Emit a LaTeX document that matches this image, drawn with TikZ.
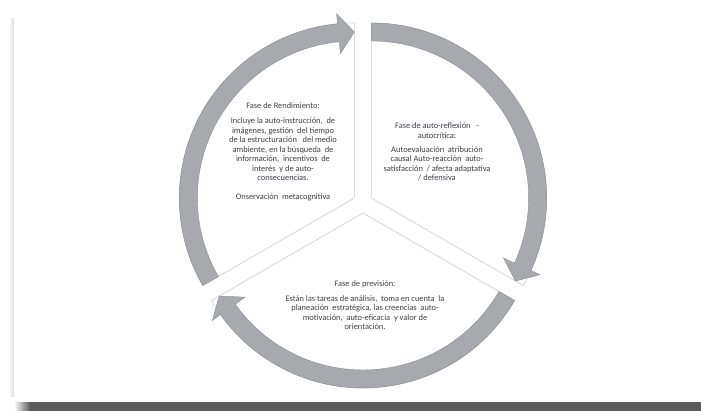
\documentclass[tikz,border=0pt]{standalone}
\usepackage{fontspec}
\setmainfont{Carlito}
\usetikzlibrary{calc}

\definecolor{ringgray}{RGB}{167,169,174}
\definecolor{ringedge}{RGB}{138,140,146}
\definecolor{txtgray}{RGB}{62,62,72}
\definecolor{shadowgray}{RGB}{92,92,92}

\begin{document}
\begin{tikzpicture}[x=1pt, y=1pt,
    segfill/.style={fill=white, draw=gray!40, line width=0.6pt},
    ringband/.style={fill=ringgray, draw=ringedge, line width=0.4pt, line join=miter},
    phase/.style={font=\fontsize{8.4}{9.5}\selectfont, text=txtgray, align=center, inner sep=0pt}
]
    \clip (0,0) rectangle (701,411);

    % card with its shadow
    \fill[shadowgray] (30,0) rectangle (701,14);
    \shade[left color=white, right color=shadowgray] (14,0) rectangle (30,14);
    \shade[left color=white, right color=gray!30] (9,14) rectangle (14,392);
    \fill[white, rounded corners=6pt] (14,9) rectangle (720,396);

    % three segments, each with its ring arrow
    \foreach \ang in {150,30,270} {
        \begin{scope}[shift={(363,208)}, shift={(\ang:10)}]
            \filldraw[segfill] (0,0) -- ({\ang+60}:175)
                arc[start angle=\ang+60, end angle=\ang-60, radius=175] -- cycle;
            \filldraw[ringband] ({\ang+60}:175)
                arc[start angle=\ang+60, end angle=\ang-54.5, radius=175]
                -- ({\ang-54.5}:185) -- ({\ang-60}:166) -- ({\ang-54.5}:145)
                -- ({\ang-54.5}:157)
                arc[start angle=\ang-54.5, end angle=\ang+60, radius=157] -- cycle;
        \end{scope}
    }

    \node[phase] (rend) at (283,259) {Fase de Rendimiento:\\[5.5pt]
        Incluye la auto-instrucción,~~de\\
        imágenes, gestión~~del tiempo\\
        de la estructuración~~~del medio\\
        ambiente, en la búsqueda~~de\\
        información,~~incentivos~~de\\
        interés~~y de auto-\\
        consecuencias.\\[9pt]
        Onservación~~metacognitiva};

    \node[phase] (refl) at (437,259) {Fase de auto-reflexión~~~-\\
        autocrítica:\\[4.5pt]
        Autoevaluación~~atribución\\
        causal Auto-reacción~~auto-\\
        satisfacción~~/ afecta adaptativa\\
        / defensiva};

    \node[phase] (prev) at (365,106) {Fase de previsión:\\[5.5pt]
        Están las tareas de análisis,~~toma en cuenta~~la\\
        planeación~~estratégica, las creencias~~auto-\\
        motivación,~~auto-eficacia~~y valor de\\
        orientación.};
\end{tikzpicture}
\end{document}
